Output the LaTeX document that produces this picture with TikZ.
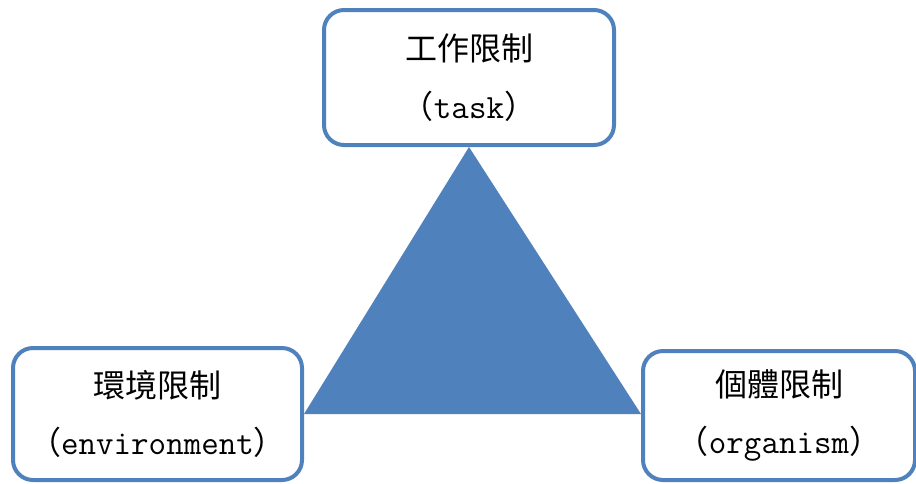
\documentclass[tikz,border=0pt]{standalone}
\usepackage{fontspec}
\newfontfamily\cjk{Noto Sans CJK TC}
\usepackage{xcolor}
\usepackage{tikz}
\usetikzlibrary{positioning}
\definecolor{limitblue}{HTML}{4F81BD}

\begin{document}
\begin{tikzpicture}[
  x=0.75pt, y=-0.75pt,
  font=\cjk
]
\tikzset{
    limitbox/.style = {rectangle, rounded corners=15pt, draw=limitblue, line width=3pt,
      fill=white, align=center, font=\cjk\fontsize{24}{43}\selectfont},
}
\newcommand{\latin}[1]{{\ttfamily\fontsize{25.5}{43}\selectfont #1}}
\useasboundingbox (0,0) rectangle (916,483);

\node[limitbox, minimum width=217.5pt, minimum height=101.25pt] (task) at (469,77.5)
  {工作限制\\（\latin{task}）};
\node[limitbox, minimum width=216.75pt, minimum height=99pt] (env) at (157.5,414)
  {環境限制\\（\latin{environment}）};
\node[limitbox, minimum width=204pt, minimum height=96.75pt] (org) at (779,415.5)
  {個體限制\\（\latin{organism}）};

\fill[limitblue] (task.south) -- (env.east) -- (org.west |- env.east) -- cycle;
\end{tikzpicture}
\end{document}
